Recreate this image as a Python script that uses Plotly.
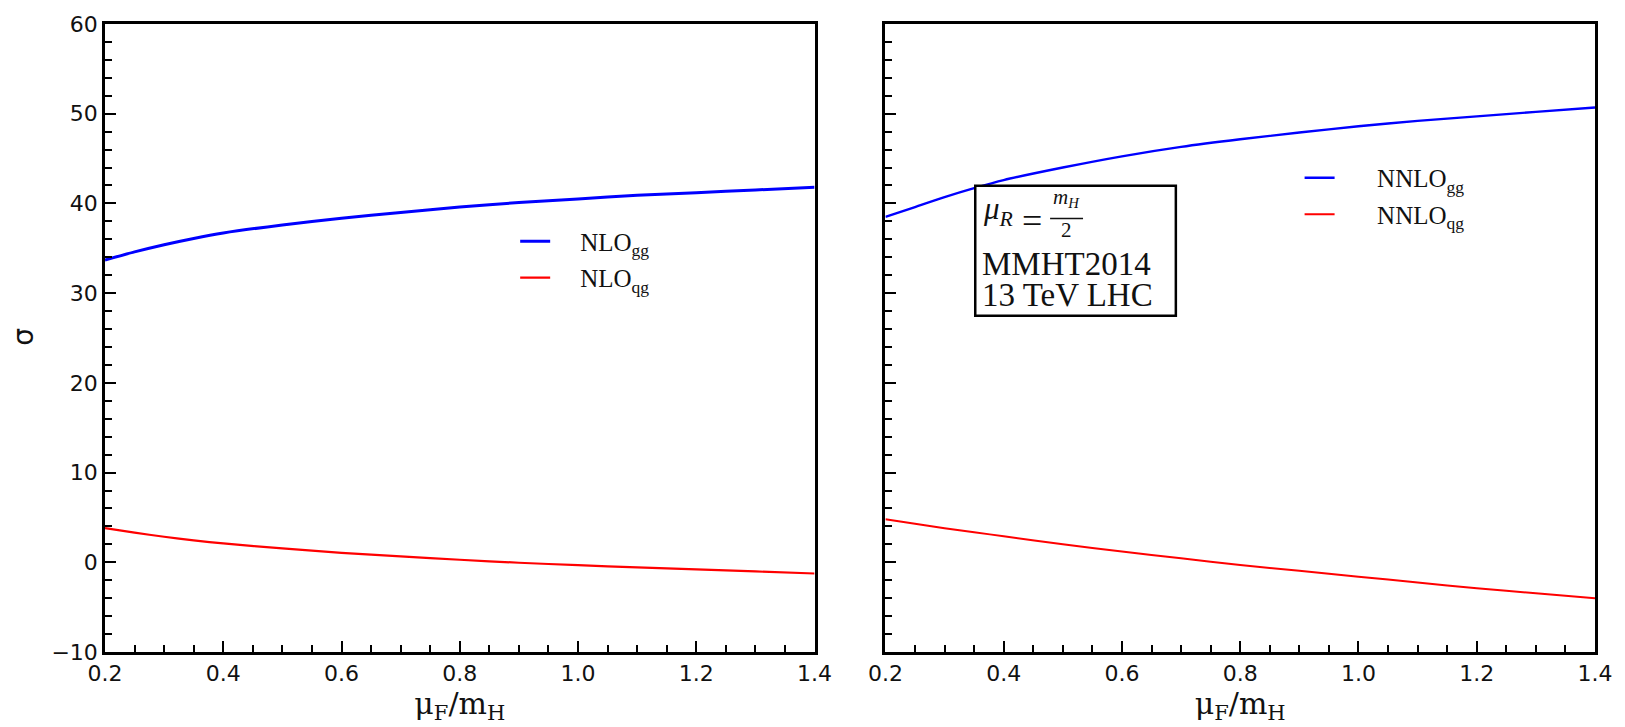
import plotly.graph_objects as go

# ---------------- data ----------------
mu_f = [0.2, 0.25, 0.3, 0.35, 0.4, 0.5, 0.6, 0.7, 0.8, 0.9, 1.0, 1.1, 1.2, 1.3, 1.4]
nlo_gg = [33.7, 34.6, 35.4, 36.1, 36.7, 37.6, 38.35, 39.0, 39.6, 40.1, 40.5, 40.9, 41.2, 41.5, 41.8]
nlo_qg = [3.8, 3.3, 2.85, 2.45, 2.1, 1.55, 1.05, 0.65, 0.28, -0.05, -0.32, -0.57, -0.8, -1.02, -1.25]
nnlo_gg = [38.5, 39.6, 40.7, 41.7, 42.6, 44.0, 45.25, 46.3, 47.15, 47.9, 48.6, 49.2, 49.7, 50.2, 50.7]
nnlo_qg = [4.8, 4.3, 3.8, 3.35, 2.9, 2.0, 1.2, 0.45, -0.3, -0.95, -1.6, -2.25, -2.9, -3.45, -4.0]

x_ticks = [0.2, 0.4, 0.6, 0.8, 1.0, 1.2, 1.4]
y_ticks = [-10, 0, 10, 20, 30, 40, 50, 60]

W, H = 1625, 727
ML, MR, MT, MB = 105, 27, 19, 75
PW, PH = W - ML - MR, H - MT - MB


def px(xp):
    return (xp - ML) / PW


def py(yp):
    return (H - MB - yp) / PH


NB = "\u00a0"
SM = 0.7
fig = go.Figure()
fig.add_trace(go.Scatter(x=mu_f, y=nlo_gg, mode="lines", name=NB * 4 + "NLO<sub>gg</sub>",
                         line=dict(color="#0000ff", width=3, shape="spline", smoothing=SM),
                         xaxis="x", yaxis="y", legend="legend", legendgroup="a"))
fig.add_trace(go.Scatter(x=mu_f, y=nlo_qg, mode="lines", name=NB * 4 + "NLO<sub>qg</sub>",
                         line=dict(color="#ff0000", width=2.2, shape="spline", smoothing=SM),
                         xaxis="x", yaxis="y", legend="legend", legendgroup="b"))
fig.add_trace(go.Scatter(x=mu_f, y=nnlo_gg, mode="lines", name=NB * 6 + "NNLO<sub>gg</sub>",
                         line=dict(color="#0000ff", width=2.4, shape="spline", smoothing=SM),
                         xaxis="x2", yaxis="y2", legend="legend2", legendgroup="c"))
fig.add_trace(go.Scatter(x=mu_f, y=nnlo_qg, mode="lines", name=NB * 6 + "NNLO<sub>qg</sub>",
                         line=dict(color="#ff0000", width=2, shape="spline", smoothing=SM),
                         xaxis="x2", yaxis="y2", legend="legend2", legendgroup="d"))

tickfont = dict(family="DejaVu Sans", size=22, color="#111")
axis_common = dict(showline=True, linecolor="black", linewidth=2.5, mirror=True,
                   ticks="inside", ticklen=11, tickwidth=1.5, tickcolor="black",
                   showgrid=False, zeroline=False, tickfont=tickfont)
x_common = dict(axis_common, range=[0.2, 1.4], tickvals=x_ticks,
                ticktext=[f"{v:.1f}" for v in x_ticks],
                minor=dict(ticks="inside", ticklen=7, tickwidth=1.5, tickcolor="black",
                           dtick=0.05, tick0=0.2, showgrid=False),
                title=dict(text="μ<sub>F</sub>/m<sub>H</sub>",
                           font=dict(family="DejaVu Serif", size=30, color="#111"), standoff=8))
y_common = dict(axis_common, range=[-10, 60], tickvals=y_ticks,
                ticktext=[("\u2212" + str(-v)) if v < 0 else str(v) for v in y_ticks],
                minor=dict(ticks="inside", ticklen=7, tickwidth=1.5, tickcolor="black",
                           dtick=2, tick0=0, showgrid=False))

leg_common = dict(xanchor="left", yanchor="top", bgcolor="rgba(0,0,0,0)",
                  font=dict(family="Liberation Serif", size=25, color="#111"),
                  tracegroupgap=1, itemclick=False)

fig.update_layout(
    width=W, height=H,
    margin=dict(l=ML, r=MR, t=MT, b=MB),
    paper_bgcolor="white", plot_bgcolor="white",
    xaxis=dict(x_common, domain=[0, px(816)], anchor="y"),
    xaxis2=dict(x_common, domain=[px(887), 1], anchor="y2"),
    yaxis=dict(y_common, domain=[0, 1], anchor="x"),
    yaxis2=dict(y_common, domain=[0, 1], anchor="x2", matches="y", showticklabels=False),
    legend=dict(leg_common, x=px(516), y=py(215)),
    legend2=dict(leg_common, x=px(1302), y=py(151)),
    showlegend=True,
)

# y axis title
fig.add_annotation(text="σ", x=px(23), y=py(334), xref="paper", yref="paper",
                   xanchor="center", yanchor="middle", showarrow=False, textangle=-90,
                   font=dict(family="DejaVu Sans", size=28, color="#111"))

# text box in right panel
fig.add_shape(type="rect", xref="paper", yref="paper",
              x0=px(977), x1=px(1178), y0=py(313), y1=py(182),
              line=dict(color="black", width=2.5), fillcolor="white", layer="above")
serif = "Liberation Serif"
fig.add_annotation(text="<i>μ<sub>R</sub></i>", x=px(983), y=py(207), xref="paper", yref="paper",
                   xanchor="left", yanchor="middle", showarrow=False,
                   font=dict(family=serif, size=31, color="#111"))
fig.add_annotation(text="=", x=px(1034), y=py(218), xref="paper", yref="paper",
                   yanchor="middle", showarrow=False, font=dict(family=serif, size=36, color="#111"))
fig.add_annotation(text="<i>m<sub>H</sub></i>", x=px(1068), y=py(194), xref="paper", yref="paper",
                   yanchor="middle", showarrow=False, font=dict(family=serif, size=21, color="#111"))
fig.add_shape(type="line", xref="paper", yref="paper", x0=px(1052), x1=px(1085),
              y0=py(215), y1=py(215), line=dict(color="#111", width=1.5))
fig.add_annotation(text="2", x=px(1068), y=py(227), xref="paper", yref="paper",
                   yanchor="middle", showarrow=False, font=dict(family=serif, size=21, color="#111"))
fig.add_annotation(text="MMHT2014", x=px(982), y=py(261), xref="paper", yref="paper",
                   xanchor="left", yanchor="middle", showarrow=False,
                   font=dict(family=serif, size=33, color="#111"))
fig.add_annotation(text="13 TeV LHC", x=px(982), y=py(292), xref="paper", yref="paper",
                   xanchor="left", yanchor="middle", showarrow=False,
                   font=dict(family=serif, size=33, color="#111"))

fig.write_html("out.html")
